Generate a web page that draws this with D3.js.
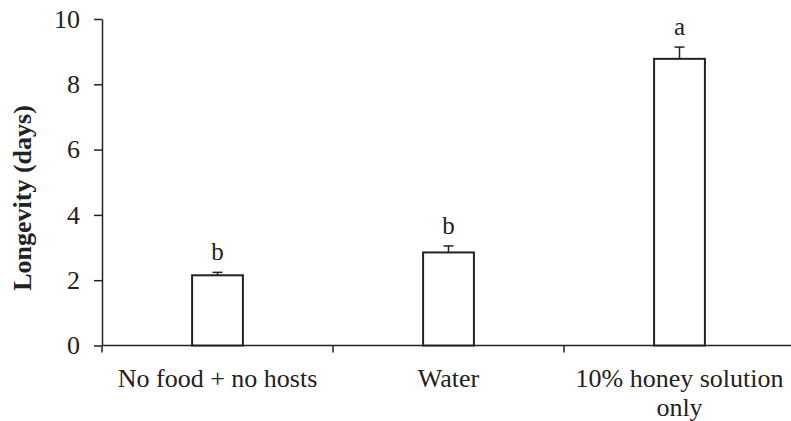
<!DOCTYPE html>
<html>
<head>
<meta charset="utf-8">
<script src="https://cdn.jsdelivr.net/npm/d3@7"></script>
<style>
  body { margin: 0; background: #fff; }
  text { font-family: "Liberation Serif", "Times New Roman", serif; }
</style>
</head>
<body>
<div id="chart"></div>
<script>
const categories = ["No food + no hosts", "Water", "10% honey solution only"];
const labelLines = [["No food + no hosts"], ["Water"], ["10% honey solution", "only"]];
const means = [2.15, 2.85, 8.78];
const errors = [0.09, 0.2, 0.36];
const letters = ["b", "b", "a"];
const yTicks = [0, 2, 4, 6, 8, 10];

const width = 791, height = 421;
const INK = "#222";
const FONT = "Liberation Serif";

const svg = d3.select("#chart").append("svg")
  .attr("width", width)
  .attr("height", height);

const x = d3.scaleBand().domain(categories).range([102, 795]).padding(0);
const y = d3.scaleLinear().domain([0, 10]).range([345.5, 19]);
const barW = x.bandwidth() * 0.22;

// y axis
const yAxis = svg.append("g")
  .attr("transform", "translate(102,0)")
  .call(d3.axisLeft(y).tickValues(yTicks).tickSize(8).tickSizeOuter(0).tickPadding(14));
yAxis.attr("font-family", FONT);
yAxis.select(".domain").attr("stroke", INK).attr("stroke-width", 1.5);
yAxis.selectAll(".tick line").attr("stroke", INK).attr("stroke-width", 1.5);
yAxis.selectAll(".tick text")
  .attr("font-family", FONT)
  .attr("font-size", 26)
  .attr("fill", "#222");

// x axis baseline + boundary ticks
svg.append("line")
  .attr("x1", 102).attr("x2", width)
  .attr("y1", y(0)).attr("y2", y(0))
  .attr("stroke", INK).attr("stroke-width", 1.5);
svg.selectAll(".xtick")
  .data(categories)
  .join("line")
  .attr("x1", d => x(d)).attr("x2", d => x(d))
  .attr("y1", y(0)).attr("y2", y(0) + 7)
  .attr("stroke", INK).attr("stroke-width", 1.5);

// bars
svg.selectAll(".bar")
  .data(categories)
  .join("rect")
  .attr("x", d => x(d) + x.bandwidth() / 2 - barW / 2)
  .attr("y", (d, i) => y(means[i]))
  .attr("width", barW)
  .attr("height", (d, i) => y(0) - y(means[i]))
  .attr("fill", "#fff")
  .attr("stroke", INK)
  .attr("stroke-width", 2);

// error bars + letters
categories.forEach(function (d, i) {
  let cx = x(d) + x.bandwidth() / 2;
  let top = y(means[i] + errors[i]);
  svg.append("line")
    .attr("x1", cx).attr("x2", cx)
    .attr("y1", y(means[i])).attr("y2", top)
    .attr("stroke", INK).attr("stroke-width", 1.5);
  svg.append("line")
    .attr("x1", cx - 5).attr("x2", cx + 5)
    .attr("y1", top).attr("y2", top)
    .attr("stroke", INK).attr("stroke-width", 1.5);
  svg.append("text")
    .attr("x", cx)
    .attr("y", top - 12)
    .attr("text-anchor", "middle")
    .attr("font-family", FONT)
    .attr("font-size", 25)
    .attr("fill", "#222")
    .text(letters[i]);
});

// category labels
categories.forEach(function (d, i) {
  let t = svg.append("text")
    .attr("x", x(d) + x.bandwidth() / 2)
    .attr("y", 387)
    .attr("text-anchor", "middle")
    .attr("font-family", FONT)
    .attr("font-size", 26)
    .attr("fill", "#222");
  labelLines[i].forEach(function (line, j) {
    t.append("tspan")
      .attr("x", x(d) + x.bandwidth() / 2)
      .attr("dy", j === 0 ? 0 : 29)
      .text(line);
  });
});

// y title
svg.append("text")
  .attr("transform", "translate(31,198) rotate(-90)")
  .attr("text-anchor", "middle")
  .attr("font-family", FONT)
  .attr("font-size", 26)
  .attr("font-weight", "bold")
  .attr("fill", "#222")
  .text("Longevity (days)");
</script>
</body>
</html>
